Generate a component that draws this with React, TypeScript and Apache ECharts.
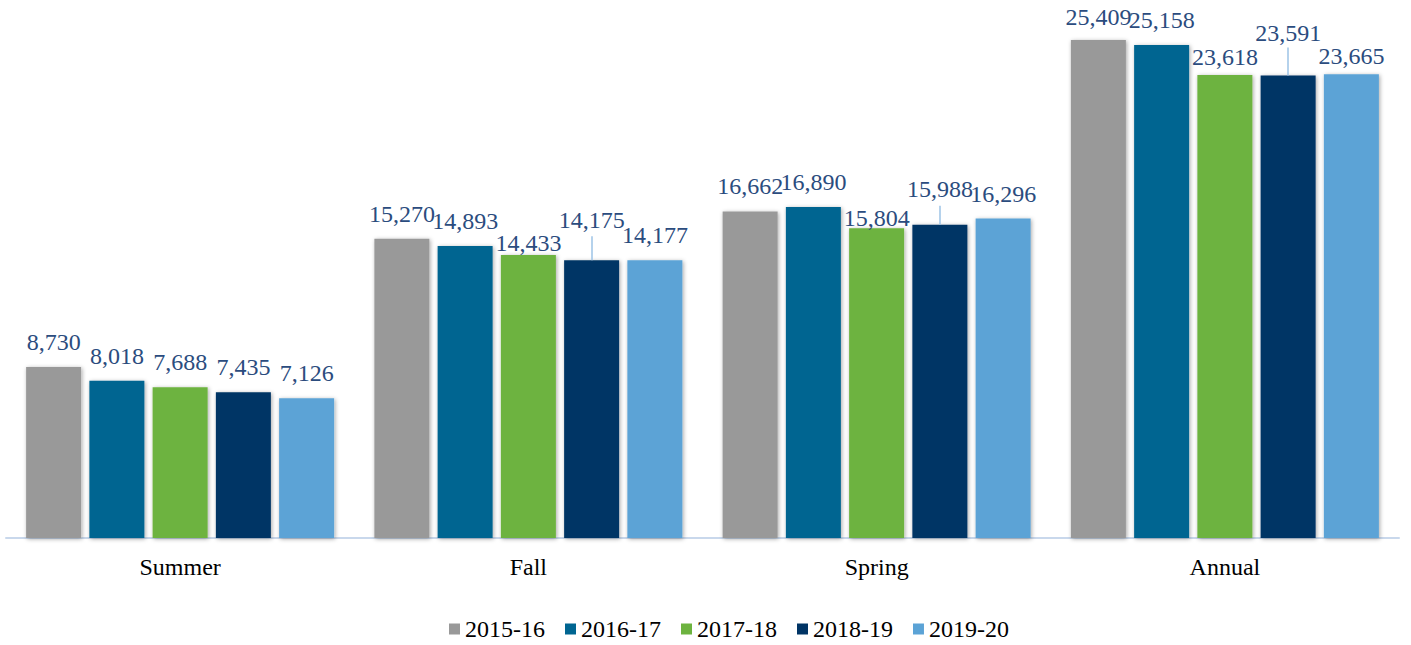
import React, { useEffect, useRef } from "react";
import * as echarts from "echarts";

const categories = ["Summer", "Fall", "Spring", "Annual"];
const seriesNames = ["2015-16", "2016-17", "2017-18", "2018-19", "2019-20"];
const values1516 = [8730, 15270, 16662, 25409];
const values1617 = [8018, 14893, 16890, 25158];
const values1718 = [7688, 14433, 15804, 23618];
const values1819 = [7435, 14175, 15988, 23591];
const values1920 = [7126, 14177, 16296, 23665];
const allValues = [values1516, values1617, values1718, values1819, values1920];

// per-label vertical nudges (px, positive = down)
const labelShift = [
  [0, 0, 0, 2],
  [0, 0, 0, 0],
  [0, 13, 15, 7],
  [0, -15, -11, -18],
  [0, 0, 0, 7],
];
// leader lines of the 2018-19 labels: length in px above the bar (0 = none)
const leaderLength = [0, 24, 19, 28];

const colors = ["#999999", "#006591", "#6DB33F", "#003465", "#5BA3D6"];
const FONT = "Liberation Serif";
const Y_MAX = 26000;
const GRID_TOP = 28.4;
const GRID_BOTTOM = 107;
const PLOT_H = 645 - GRID_TOP - GRID_BOTTOM;

export default function App() {
  const ref = useRef<HTMLDivElement>(null);
  useEffect(() => {
    if (!ref.current) return;
    const chart = echarts.init(ref.current, null, { renderer: "svg" });
    const pxToVal = Y_MAX / PLOT_H;
    const series: any[] = allValues.map((vals, si) => ({
      name: seriesNames[si],
      type: "bar",
      barWidth: 55,
      barGap: "15%",
      itemStyle: {
        color: colors[si],
        shadowBlur: 4,
        shadowColor: "rgba(0,0,0,0.35)",
        shadowOffsetX: 1,
        shadowOffsetY: 1,
      },
      label: {
        show: true,
        position: "top",
        distance: 13,
        color: "#2B4C7E",
        fontFamily: FONT,
        fontSize: 24,
        formatter: (p: any) => Number(p.value).toLocaleString("en-US"),
      },
      data: vals.map((v, ci) => ({
        value: v,
        label: { offset: [0, labelShift[si][ci]] },
      })),
    }));
    const s = series[3];
    s.markLine = {
      silent: true,
      symbol: "none",
      label: { show: false },
      lineStyle: { color: "#9DC3E6", width: 1.5, type: "solid" },
      data: leaderLength
        .map((len, ci) =>
          len > 0
            ? [
                { coord: [ci, values1819[ci]] },
                { coord: [ci, values1819[ci] + len * pxToVal] },
              ]
            : null
        )
        .filter((d) => d !== null),
    };
    chart.setOption({
      animation: false,
      color: colors,
      textStyle: { fontFamily: FONT },
      grid: { left: 6, right: 12, top: GRID_TOP, bottom: GRID_BOTTOM, containLabel: false },
      legend: {
        data: seriesNames,
        left: 444,
        top: 612,
        icon: "rect",
        itemWidth: 11,
        itemHeight: 11,
        itemGap: 20,
        textStyle: { fontFamily: FONT, fontSize: 24, color: "#000" },
      },
      xAxis: {
        type: "category",
        data: categories,
        axisLine: { show: true, lineStyle: { color: "#C9D8EC", width: 2 } },
        axisTick: { show: false },
        axisLabel: { fontFamily: FONT, fontSize: 24, color: "#000", margin: 17 },
      },
      yAxis: {
        type: "value",
        min: 0,
        max: Y_MAX,
        show: false,
        splitLine: { show: false },
      },
      series,
    });
    return () => chart.dispose();
  }, []);
  return (
    <div
      ref={ref}
      style={{ position: "fixed", left: 0, top: 0, width: 1411, height: 645, background: "#fff" }}
    />
  );
}
